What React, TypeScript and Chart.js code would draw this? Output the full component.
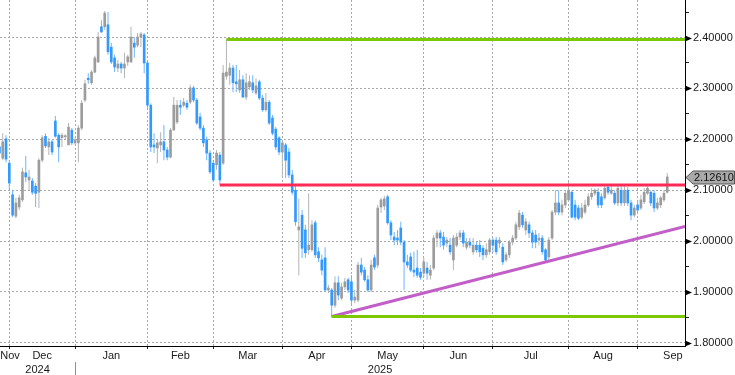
import React, { useEffect, useRef } from 'react';
import { Chart, registerables } from 'chart.js';

Chart.register(...registerables);

// Daily candles (trading-day index 0..203), late Nov 2024 - mid Sep 2025
const OPEN = [
  2.185, 2.163, 2.201, 2.153, 2.091, 2.049, 2.067, 2.081, 2.134, 2.120,
  2.118, 2.108, 2.096, 2.159, 2.206, 2.185, 2.195, 2.236, 2.208, 2.203,
  2.205, 2.189, 2.218, 2.193, 2.193, 2.222, 2.277, 2.320, 2.311, 2.332,
  2.352, 2.421, 2.421, 2.425, 2.381, 2.360, 2.340, 2.348, 2.340, 2.352,
  2.352, 2.389, 2.385, 2.401, 2.405, 2.350, 2.267, 2.189, 2.183, 2.189,
  2.195, 2.179, 2.165, 2.218, 2.234, 2.267, 2.267, 2.271, 2.273, 2.301,
  2.277, 2.244, 2.222, 2.199, 2.173, 2.153, 2.150, 2.169, 2.153, 2.324,
  2.326, 2.340, 2.313, 2.297, 2.317, 2.283, 2.303, 2.311, 2.291, 2.313,
  2.281, 2.258, 2.273, 2.242, 2.220, 2.203, 2.175, 2.189, 2.175, 2.130,
  2.100, 2.022, 2.051, 2.022, 1.983, 1.983, 2.036, 1.979, 1.963, 1.967,
  1.904, 1.904, 1.874, 1.918, 1.888, 1.910, 1.924, 1.920, 1.884, 1.884,
  1.953, 1.943, 1.924, 1.904, 1.967, 1.953, 2.067, 2.069, 2.087, 2.036,
  2.008, 2.006, 2.026, 1.998, 1.959, 1.969, 1.943, 1.947, 1.939, 1.937,
  1.947, 1.933, 1.947, 2.006, 2.016, 2.008, 1.996, 1.992, 1.963, 1.992,
  2.008, 2.016, 1.988, 1.998, 1.979, 1.992, 1.992, 1.986, 1.973, 1.979,
  2.002, 2.002, 1.996, 1.988, 1.963, 1.973, 1.998, 2.006, 2.028, 2.051,
  2.022, 2.032, 2.016, 2.012, 2.002, 2.006, 1.983, 1.969, 2.006, 2.057,
  2.075, 2.057, 2.071, 2.081, 2.096, 2.071, 2.065, 2.047, 2.057, 2.071,
  2.087, 2.094, 2.096, 2.087, 2.085, 2.106, 2.094, 2.094, 2.075, 2.100,
  2.075, 2.100, 2.075, 2.051, 2.071, 2.065, 2.077, 2.094, 2.096, 2.094,
  2.065, 2.071, 2.081, 2.096,
];
const HIGH = [
  2.199, 2.212, 2.208, 2.159, 2.100, 2.085, 2.091, 2.144, 2.167, 2.140,
  2.124, 2.114, 2.163, 2.208, 2.212, 2.203, 2.199, 2.246, 2.212, 2.212,
  2.210, 2.232, 2.222, 2.203, 2.228, 2.277, 2.317, 2.330, 2.336, 2.364,
  2.411, 2.434, 2.452, 2.450, 2.389, 2.366, 2.356, 2.352, 2.370, 2.366,
  2.421, 2.401, 2.409, 2.411, 2.409, 2.356, 2.271, 2.212, 2.199, 2.214,
  2.228, 2.185, 2.222, 2.283, 2.277, 2.277, 2.281, 2.277, 2.307, 2.305,
  2.281, 2.252, 2.228, 2.205, 2.179, 2.159, 2.179, 2.175, 2.346, 2.396,
  2.350, 2.346, 2.346, 2.336, 2.326, 2.330, 2.326, 2.326, 2.320, 2.317,
  2.287, 2.291, 2.277, 2.248, 2.224, 2.206, 2.199, 2.193, 2.183, 2.140,
  2.110, 2.083, 2.061, 2.032, 2.094, 2.041, 2.041, 1.988, 1.973, 1.988,
  1.914, 1.908, 1.931, 1.931, 1.918, 1.928, 1.928, 1.933, 1.904, 1.959,
  1.967, 1.949, 1.933, 1.963, 1.973, 2.071, 2.085, 2.089, 2.091, 2.041,
  2.018, 2.022, 2.038, 2.002, 1.973, 1.977, 1.979, 1.983, 1.947, 1.967,
  1.959, 1.953, 2.012, 2.022, 2.022, 2.018, 2.008, 2.006, 2.012, 2.016,
  2.022, 2.022, 2.006, 2.006, 2.006, 1.998, 2.002, 1.992, 1.996, 2.006,
  2.006, 2.008, 2.008, 1.996, 1.979, 2.002, 2.012, 2.038, 2.061, 2.057,
  2.045, 2.038, 2.022, 2.022, 2.016, 2.012, 1.986, 2.008, 2.061, 2.100,
  2.100, 2.081, 2.100, 2.116, 2.100, 2.081, 2.071, 2.075, 2.081, 2.094,
  2.104, 2.104, 2.104, 2.094, 2.110, 2.112, 2.108, 2.100, 2.110, 2.108,
  2.108, 2.106, 2.081, 2.071, 2.081, 2.091, 2.104, 2.108, 2.100, 2.100,
  2.085, 2.089, 2.100, 2.134,
];
const LOW = [
  2.163, 2.159, 2.155, 2.100, 2.047, 2.045, 2.061, 2.077, 2.116, 2.100,
  2.091, 2.067, 2.065, 2.155, 2.183, 2.169, 2.169, 2.203, 2.155, 2.185,
  2.199, 2.189, 2.189, 2.189, 2.155, 2.218, 2.273, 2.309, 2.307, 2.330,
  2.350, 2.409, 2.415, 2.366, 2.348, 2.332, 2.332, 2.330, 2.320, 2.344,
  2.350, 2.360, 2.381, 2.381, 2.330, 2.258, 2.175, 2.173, 2.153, 2.175,
  2.159, 2.159, 2.163, 2.218, 2.230, 2.248, 2.263, 2.258, 2.269, 2.273,
  2.228, 2.218, 2.185, 2.159, 2.132, 2.116, 2.140, 2.110, 2.150, 2.317,
  2.307, 2.293, 2.293, 2.291, 2.281, 2.277, 2.297, 2.291, 2.287, 2.277,
  2.254, 2.254, 2.228, 2.208, 2.179, 2.169, 2.126, 2.124, 2.124, 2.091,
  2.030, 1.933, 1.967, 1.967, 1.973, 1.979, 1.967, 1.959, 1.933, 1.900,
  1.898, 1.851, 1.869, 1.884, 1.884, 1.904, 1.898, 1.874, 1.878, 1.880,
  1.933, 1.920, 1.900, 1.900, 1.943, 1.947, 2.055, 2.061, 2.032, 2.002,
  1.992, 1.992, 1.992, 1.904, 1.947, 1.939, 1.929, 1.928, 1.924, 1.929,
  1.924, 1.924, 1.943, 1.988, 1.988, 1.983, 1.988, 1.973, 1.943, 1.988,
  2.002, 1.988, 1.983, 1.986, 1.973, 1.977, 1.969, 1.963, 1.967, 1.973,
  1.977, 1.973, 1.986, 1.953, 1.959, 1.967, 1.992, 2.002, 2.022, 2.026,
  2.012, 2.006, 1.986, 1.986, 1.992, 1.973, 1.959, 1.963, 2.002, 2.051,
  2.051, 2.051, 2.065, 2.077, 2.045, 2.041, 2.041, 2.043, 2.053, 2.067,
  2.081, 2.089, 2.065, 2.065, 2.081, 2.091, 2.091, 2.071, 2.069, 2.069,
  2.069, 2.069, 2.041, 2.047, 2.057, 2.061, 2.073, 2.091, 2.069, 2.057,
  2.061, 2.065, 2.077, 2.094,
];
const CLOSE = [
  2.173, 2.195, 2.161, 2.114, 2.051, 2.075, 2.085, 2.136, 2.126, 2.126,
  2.096, 2.094, 2.159, 2.203, 2.187, 2.195, 2.175, 2.206, 2.185, 2.208,
  2.206, 2.224, 2.193, 2.199, 2.222, 2.271, 2.309, 2.317, 2.332, 2.360,
  2.401, 2.411, 2.448, 2.372, 2.352, 2.342, 2.348, 2.340, 2.348, 2.362,
  2.401, 2.381, 2.401, 2.407, 2.350, 2.267, 2.185, 2.185, 2.193, 2.195,
  2.179, 2.165, 2.218, 2.267, 2.267, 2.263, 2.273, 2.263, 2.301, 2.277,
  2.232, 2.222, 2.193, 2.173, 2.136, 2.120, 2.173, 2.120, 2.330, 2.332,
  2.340, 2.311, 2.309, 2.317, 2.283, 2.311, 2.313, 2.297, 2.305, 2.281,
  2.258, 2.273, 2.232, 2.212, 2.185, 2.175, 2.193, 2.159, 2.130, 2.096,
  2.038, 2.028, 1.986, 1.977, 1.992, 2.032, 1.973, 1.967, 1.943, 1.904,
  1.908, 1.874, 1.918, 1.894, 1.910, 1.920, 1.904, 1.884, 1.890, 1.953,
  1.939, 1.924, 1.904, 1.953, 1.949, 2.065, 2.081, 2.083, 2.036, 2.012,
  2.002, 2.002, 1.998, 1.959, 1.953, 1.943, 1.939, 1.933, 1.929, 1.959,
  1.937, 1.943, 2.006, 2.016, 2.006, 1.992, 2.002, 1.979, 2.006, 2.008,
  2.016, 1.996, 1.998, 1.992, 1.992, 1.983, 1.979, 1.973, 1.983, 2.002,
  1.992, 1.979, 2.002, 1.959, 1.973, 1.998, 2.006, 2.032, 2.055, 2.032,
  2.038, 2.016, 1.998, 1.998, 2.006, 1.979, 1.963, 2.002, 2.057, 2.075,
  2.057, 2.071, 2.094, 2.100, 2.047, 2.047, 2.045, 2.065, 2.071, 2.087,
  2.094, 2.100, 2.071, 2.071, 2.104, 2.096, 2.100, 2.075, 2.104, 2.075,
  2.100, 2.075, 2.051, 2.065, 2.061, 2.081, 2.096, 2.104, 2.075, 2.065,
  2.075, 2.085, 2.094, 2.1261,
];

// Month boundaries (index of first trading day), month label positions, years
const MONTH_START = [3, 23, 45, 65, 86, 107, 129, 150, 173, 194];
const MONTH_NAMES = ['Nov', 'Dec', 'Jan', 'Feb', 'Mar', 'Apr', 'May', 'Jun', 'Jul', 'Aug', 'Sep'];
const MONTH_LABEL_POS = [3.2, 13, 34, 55, 75.5, 96.5, 118, 139.5, 161.5, 183.5, 204.7];
const YEAR_NAMES = ['2024', '2025'];
const YEAR_LABEL_POS = [11.6, 115.7];

// Y axis ticks
const Y_TICKS = [1.8, 1.85, 1.9, 1.95, 2.0, 2.05, 2.1, 2.15, 2.2, 2.25, 2.3, 2.35, 2.4, 2.45];

// Drawn levels
const RED_LEVEL = 2.11;
const RED_START = 67;
const GREEN_TOP_LEVEL = 2.396;
const GREEN_TOP_START = 69;
const GREEN_BOTTOM_LEVEL = 1.852;
const GREEN_BOTTOM_START = 101;
const TREND_START = [101, 1.852];
const TREND_END_PRICE = 2.029;

const X_MIN = 0.17;
const X_MAX = 208.4;
const Y_MIN = 1.7939;
const Y_MAX = 2.4737;

const FONT = 'Liberation Sans';
const isMajor = (v: number) => Math.abs(v * 10 - Math.round(v * 10)) < 1e-6;

const noPad = (s: any) => {
  s.paddingTop = 0;
  s.paddingBottom = 0;
  s.paddingLeft = 0;
  s.paddingRight = 0;
};

export default function App() {
  const ref = useRef<HTMLCanvasElement>(null);

  useEffect(() => {
    document.body.style.margin = '0';
    const canvas = ref.current;
    if (!canvas) return;

    const idx = CLOSE.map((_, i) => i);
    const up = (i: number) => CLOSE[i] >= OPEN[i];
    const wickData = idx.map((i) => ({ x: i, y: [LOW[i], HIGH[i]] }));
    const bodyData = idx.map((i) => ({ x: i, y: [Math.min(OPEN[i], CLOSE[i]), Math.max(OPEN[i], CLOSE[i])] }));
    const wickColors = idx.map((i) => (up(i) ? '#b4b4b4' : '#6db4ff'));
    const bodyColors = idx.map((i) => (up(i) ? '#9c9c9c' : '#3399ff'));

    const overlay = {
      id: 'overlay',
      afterDraw(chart: any) {
        const { ctx, chartArea } = chart;
        const x = chart.scales.x;
        const y = chart.scales.y;
        ctx.save();
        // triangles at major ticks
        ctx.fillStyle = '#000';
        Y_TICKS.filter(isMajor).forEach((v) => {
          const py = Math.round(y.getPixelForValue(v)) + 0.5;
          ctx.beginPath();
          ctx.moveTo(chartArea.right, py - 3);
          ctx.lineTo(chartArea.right + 7, py);
          ctx.lineTo(chartArea.right, py + 3);
          ctx.closePath();
          ctx.fill();
        });
        // year separator
        const sx = Math.round(x.getPixelForValue(MONTH_START[1])) + 0.5;
        ctx.strokeStyle = '#909090';
        ctx.lineWidth = 1;
        ctx.beginPath();
        ctx.moveTo(sx, 362);
        ctx.lineTo(sx, chart.height);
        ctx.stroke();
        // last price tag
        const last = CLOSE[CLOSE.length - 1];
        const py = Math.round(y.getPixelForValue(last)) + 0.5;
        const l = chartArea.right + 1;
        ctx.beginPath();
        ctx.moveTo(l, py);
        ctx.lineTo(l + 7, py - 6.5);
        ctx.lineTo(chart.width - 0.5, py - 6.5);
        ctx.lineTo(chart.width - 0.5, py + 6.5);
        ctx.lineTo(l + 7, py + 6.5);
        ctx.closePath();
        ctx.fillStyle = '#a9a9a9';
        ctx.fill();
        ctx.strokeStyle = '#555';
        ctx.stroke();
        ctx.fillStyle = '#111';
        ctx.font = `11px "${FONT}"`;
        ctx.textBaseline = 'middle';
        ctx.textAlign = 'left';
        ctx.fillText(last.toFixed(5), l + 8, py + 0.5);
        ctx.restore();
      },
    };

    const chart = new Chart(canvas, {
      type: 'bar',
      data: {
        datasets: [
          {
            type: 'line',
            data: [{ x: RED_START, y: RED_LEVEL }, { x: X_MAX, y: RED_LEVEL }],
            borderColor: '#ff2a55',
            borderWidth: 3,
            pointRadius: 0,
            order: 0,
          } as any,
          {
            type: 'line',
            data: [{ x: GREEN_TOP_START, y: GREEN_TOP_LEVEL }, { x: X_MAX, y: GREEN_TOP_LEVEL }],
            borderColor: '#7cc800',
            borderWidth: 3,
            pointRadius: 0,
            order: 0,
          },
          {
            type: 'line',
            data: [{ x: GREEN_BOTTOM_START, y: GREEN_BOTTOM_LEVEL }, { x: X_MAX, y: GREEN_BOTTOM_LEVEL }],
            borderColor: '#7cc800',
            borderWidth: 3,
            pointRadius: 0,
            order: 0,
          },
          {
            type: 'line',
            data: [{ x: TREND_START[0], y: TREND_START[1] }, { x: X_MAX, y: TREND_END_PRICE }],
            borderColor: '#c25ec8',
            borderWidth: 3,
            pointRadius: 0,
            order: 0,
          },
          {
            type: 'bar',
            data: wickData as any,
            backgroundColor: wickColors,
            barThickness: 1,
            inflateAmount: 0,
            grouped: false,
            borderWidth: 0,
            order: 2,
          },
          {
            type: 'bar',
            data: bodyData as any,
            backgroundColor: bodyColors,
            barThickness: 2,
            grouped: false,
            borderWidth: 0,
            minBarLength: 1,
            order: 1,
          },
        ] as any,
      },
      options: {
        responsive: false,
        animation: false,
        devicePixelRatio: 1,
        events: [],
        layout: { padding: 0 },
        plugins: { legend: { display: false }, tooltip: { enabled: false } },
        scales: {
          x: {
            type: 'linear',
            position: 'bottom',
            min: X_MIN,
            max: X_MAX,
            offset: false,
            weight: 0,
            afterBuildTicks: (s: any) => {
              s.ticks = MONTH_START.map((v) => ({ value: v }));
            },
            afterFit: (s: any) => {
              s.height = 3;
              noPad(s);
            },
            ticks: { autoSkip: false, maxRotation: 0, padding: 0, callback: () => '' },
            grid: { color: '#a8a8a8', lineWidth: 1, offset: false, drawTicks: true, tickLength: 3, tickColor: '#222' },
            border: { display: true, color: '#000', width: 1, dash: [2, 2] },
          },
          x2: {
            type: 'linear',
            axis: 'x',
            position: 'bottom',
            min: X_MIN,
            max: X_MAX,
            offset: false,
            weight: 1,
            afterBuildTicks: (s: any) => {
              s.ticks = MONTH_LABEL_POS.map((v) => ({ value: v }));
            },
            afterFit: (s: any) => {
              s.height = 14;
              noPad(s);
            },
            ticks: {
              autoSkip: false,
              maxRotation: 0,
              minRotation: 0,
              padding: 0,
              color: '#1a1a1a',
              font: { family: FONT, size: 11 },
              callback: (_v: any, i: number) => MONTH_NAMES[i],
            },
            grid: { display: false, drawTicks: false, drawOnChartArea: false, offset: false },
            border: { display: false },
          },
          x3: {
            type: 'linear',
            axis: 'x',
            position: 'bottom',
            min: X_MIN,
            max: X_MAX,
            offset: false,
            weight: 2,
            afterBuildTicks: (s: any) => {
              s.ticks = YEAR_LABEL_POS.map((v) => ({ value: v }));
            },
            afterFit: (s: any) => {
              s.height = 12;
              noPad(s);
            },
            ticks: {
              autoSkip: false,
              maxRotation: 0,
              minRotation: 0,
              padding: 0,
              color: '#1a1a1a',
              font: { family: FONT, size: 11 },
              callback: (_v: any, i: number) => YEAR_NAMES[i],
            },
            grid: { display: false, drawTicks: false, drawOnChartArea: false, offset: false },
            border: { display: false },
          },
          y: {
            type: 'linear',
            position: 'right',
            min: Y_MIN,
            max: Y_MAX,
            beginAtZero: false,
            afterBuildTicks: (s: any) => {
              s.ticks = Y_TICKS.map((v) => ({ value: v }));
            },
            afterFit: (s: any) => {
              s.width = 50;
              noPad(s);
            },
            ticks: {
              autoSkip: false,
              padding: 4,
              color: '#1a1a1a',
              font: { family: FONT, size: 11 },
              callback: (v: any) => (isMajor(Number(v)) ? Number(v).toFixed(5) : ''),
            },
            grid: {
              color: (c: any) => (c.tick && isMajor(c.tick.value) ? '#a8a8a8' : 'rgba(0,0,0,0)'),
              tickColor: (c: any) => (c.tick && isMajor(c.tick.value) ? 'rgba(0,0,0,0)' : '#222'),
              drawTicks: true,
              tickLength: 4,
              lineWidth: 1,
            },
            border: { display: true, color: '#000', width: 1, dash: [2, 2] },
          },
        } as any,
      },
      plugins: [overlay],
    } as any);

    return () => chart.destroy();
  }, []);

  return (
    <div style={{ width: 735, height: 375 }}>
      <canvas ref={ref} width={735} height={375} style={{ display: 'block' }} />
    </div>
  );
}
